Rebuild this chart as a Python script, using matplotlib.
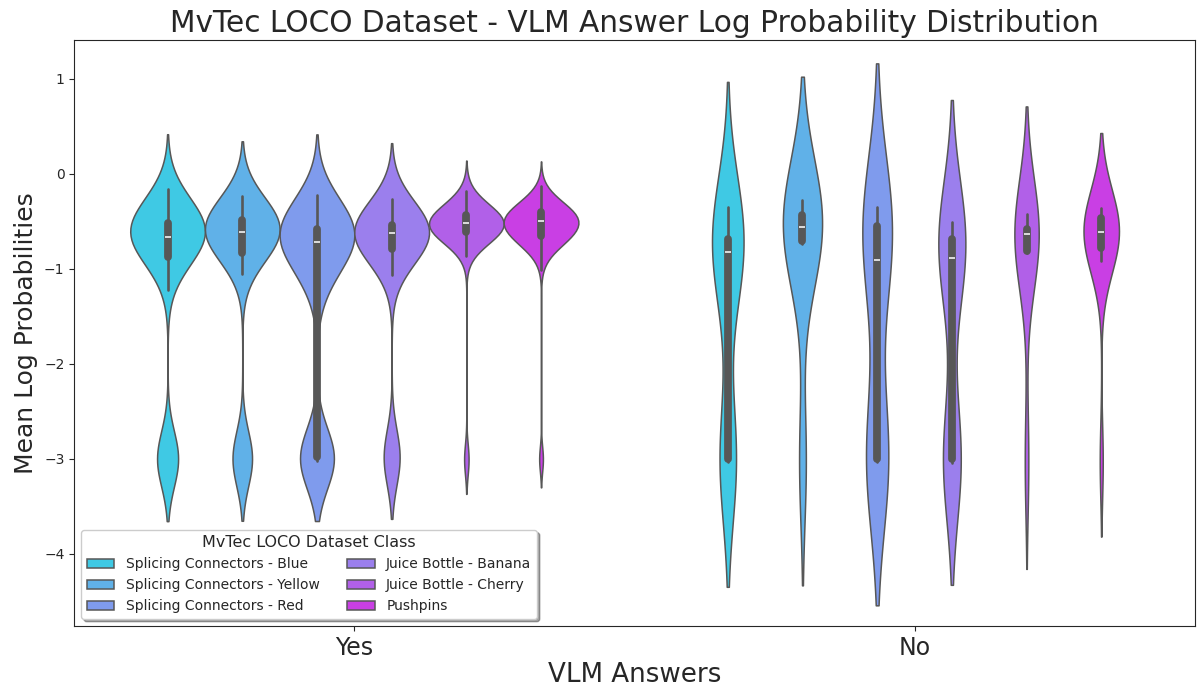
import numpy as np
import pandas as pd
import matplotlib
import matplotlib.pyplot as plt
import seaborn as sns

matplotlib.use("Agg")

ANSWERS = ["Yes", "No"]
CLASSES = [
    "Splicing Connectors - Blue",
    "Splicing Connectors - Yellow",
    "Splicing Connectors - Red",
    "Juice Bottle - Banana",
    "Juice Bottle - Cherry",
    "Pushpins",
]

# "Yes" answers: many samples, kept as value / count pairs
yes_blue_vals = [-3.08, -3.04, -3.0, -2.96, -2.92,
                 -1.22, -1.12, -1.02, -0.94, -0.88, -0.80, -0.72, -0.66,
                 -0.60, -0.55, -0.52, -0.45, -0.38, -0.30, -0.22, -0.16]
yes_blue_counts = [10, 18, 22, 16, 10,
                   2, 4, 7, 10, 16, 28, 40, 40,
                   40, 30, 20, 30, 25, 18, 10, 4]

yes_yellow_vals = [-3.08, -3.04, -3.0, -2.96, -2.92,
                   -1.05, -0.98, -0.92, -0.87, -0.83, -0.76, -0.70, -0.65,
                   -0.61, -0.56, -0.52, -0.49, -0.44, -0.38, -0.32, -0.27, -0.23]
yes_yellow_counts = [9, 17, 22, 16, 10,
                     3, 6, 8, 8, 15, 26, 30, 29,
                     36, 34, 30, 24, 26, 22, 16, 9, 4]

yes_red_vals = [-3.02, -3.0, -2.98,
                -1.30, -1.20, -1.10, -1.00, -0.92, -0.84, -0.78, -0.72,
                -0.67, -0.62, -0.58, -0.52, -0.45, -0.38, -0.31, -0.26, -0.22]
yes_red_counts = [15, 55, 38,
                  3, 6, 10, 14, 18, 20, 20, 26,
                  28, 28, 26, 28, 25, 20, 12, 6, 2]

yes_banana_vals = [-3.05, -3.01, -2.98, -2.95, -2.91,
                   -1.06, -0.98, -0.91, -0.85, -0.79, -0.74, -0.69, -0.65,
                   -0.62, -0.59, -0.56, -0.54, -0.49, -0.43, -0.37, -0.31, -0.26]
yes_banana_counts = [6, 10, 12, 8, 4,
                     2, 4, 7, 9, 16, 16, 16, 14,
                     20, 22, 20, 18, 16, 14, 9, 5, 2]

yes_cherry_vals = [-3.05, -3.02, -3.0, -2.97,
                   -0.86, -0.80, -0.74, -0.69, -0.65, -0.61, -0.57, -0.54,
                   -0.52, -0.49, -0.46, -0.43, -0.39, -0.34, -0.29, -0.23, -0.18]
yes_cherry_counts = [3, 5, 6, 4,
                     3, 8, 16, 24, 30, 36, 36, 28,
                     34, 34, 32, 30, 28, 20, 13, 8, 2]

yes_pushpins_vals = [-3.04, -3.01, -2.98,
                     -1.01, -0.93, -0.86, -0.80, -0.74, -0.69, -0.65, -0.60,
                     -0.55, -0.50, -0.46, -0.43, -0.40, -0.35, -0.29, -0.23,
                     -0.18, -0.13]
yes_pushpins_counts = [3, 6, 6,
                       2, 5, 10, 18, 28, 36, 40, 46,
                       48, 50, 44, 32, 36, 38, 28, 15,
                       7, 2]

# "No" answers: few samples, listed one by one
no_blue = [-3.03, -3.02, -3.01, -3.0, -3.0, -1.05, -0.9, -0.82, -0.78,
           -0.74, -0.71, -0.67, -0.6, -0.5, -0.35]
no_yellow = [-3.03, -0.74, -0.68, -0.56, -0.47, -0.39, -0.28]
no_red = [-3.03, -3.02, -3.01, -3.0, -2.98, -1.1, -0.71, -0.64, -0.56,
          -0.52, -0.44, -0.35]
no_banana = [-3.04, -3.03, -3.02, -3.01, -3.0, -3.0, -2.98, -1.1, -0.92,
             -0.86, -0.8, -0.75, -0.71, -0.68, -0.63, -0.6, -0.56, -0.51]
no_cherry = [-3.03, -0.83, -0.8, -0.66, -0.6, -0.59, -0.55, -0.42]
no_pushpins = [-3.03, -0.92, -0.85, -0.79, -0.75, -0.68, -0.63, -0.59, -0.56,
               -0.49, -0.46, -0.43, -0.4, -0.36]


def build_frame():
    """
    Description: Put every sample in one long table for seaborn.
    """
    yes_data = [
        (yes_blue_vals, yes_blue_counts),
        (yes_yellow_vals, yes_yellow_counts),
        (yes_red_vals, yes_red_counts),
        (yes_banana_vals, yes_banana_counts),
        (yes_cherry_vals, yes_cherry_counts),
        (yes_pushpins_vals, yes_pushpins_counts),
    ]
    no_data = [no_blue, no_yellow, no_red, no_banana, no_cherry, no_pushpins]
    rows = []
    for cls, (vals, counts) in zip(CLASSES, yes_data):
        for v in np.repeat(vals, counts):
            rows.append(("Yes", cls, v))
    for cls, vals in zip(CLASSES, no_data):
        for v in vals:
            rows.append(("No", cls, v))
    return pd.DataFrame(rows, columns=["VLM Answers", "MvTec LOCO Dataset Class",
                                       "Mean Log Probabilities"])


def main():
    df = build_frame()
    sns.set_style("ticks")
    fig, ax = plt.subplots(figsize=(11.97, 6.9), dpi=100)
    sns.violinplot(data=df, x="VLM Answers", y="Mean Log Probabilities",
                   hue="MvTec LOCO Dataset Class", order=ANSWERS,
                   hue_order=CLASSES, palette="cool", linewidth=1.1,
                   inner_kws=dict(box_width=5.6, whis_width=1.9), ax=ax)
    ax.set_ylim(-4.76, 1.41)
    ax.set_title("MvTec LOCO Dataset - VLM Answer Log Probability Distribution",
                 fontsize=21.3)
    ax.set_xlabel("VLM Answers", fontsize=18.8, labelpad=2)
    ax.set_ylabel("Mean Log Probabilities", fontsize=18)
    ax.tick_params(axis="x", labelsize=17)
    ax.tick_params(axis="y", labelsize=10)
    handles, labels = ax.get_legend_handles_labels()
    ax.legend(handles, labels, title="MvTec LOCO Dataset Class", ncol=2,
              loc="lower left", shadow=True, fontsize=10, title_fontsize=11.5)
    fig.subplots_adjust(left=0.062, right=0.998, bottom=0.093, top=0.942)
    fig.savefig("out.png", dpi=100)


if __name__ == "__main__":
    main()
